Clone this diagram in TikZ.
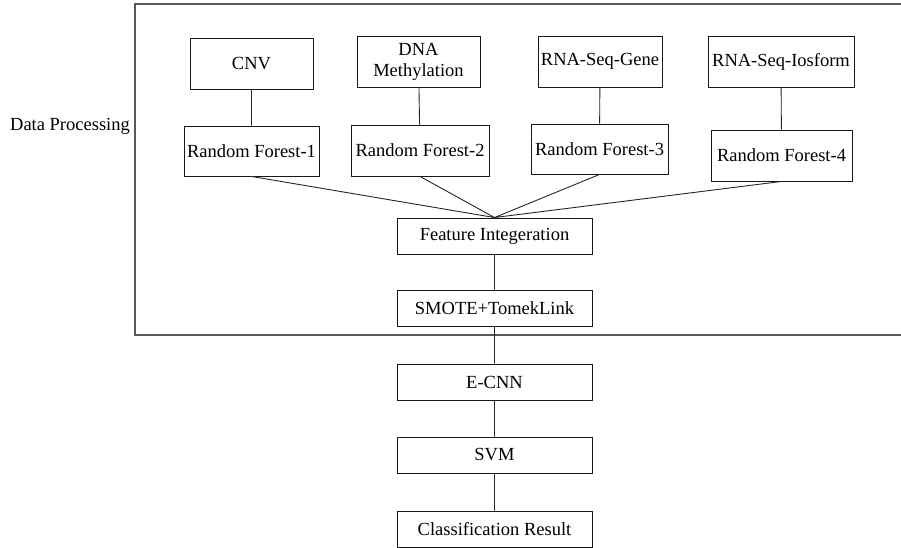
\documentclass[tikz,border=0pt]{standalone}
\usepackage{fontspec}
\setmainfont{Liberation Serif}
\usepackage{tikz}
\usetikzlibrary{positioning}

\begin{document}
\begin{tikzpicture}[x=1pt,y=-1pt,font=\fontsize{18.5}{20}\selectfont,
                    box/.style={draw=black!90,line width=0.9pt,inner sep=2pt},
                    link/.style={draw=black!85,line width=0.9pt}]

 \useasboundingbox (0,0) rectangle (901,548);
 \draw[black!65,line width=1.3pt] (901,4) -- (135,4) -- (135,335) -- (901,335);
 \node (dp) at (70,126) {Data Processing};

  \node[box,minimum width=123,minimum height=51] (CNV) at (251.5,63.5) {CNV};
  \node[box,minimum width=123,minimum height=51,align=center,
        font=\fontsize{18.5}{21}\selectfont] (DNA) at (418.5,61.5) {DNA\\Methylation};
  \node[box,minimum width=124,minimum height=51] (Gene) at (600,61.5) {RNA-Seq-Gene};
  \node[box,minimum width=146,minimum height=51] (Iso) at (781,61.5) {RNA-Seq-Iosform};

  \node[box,minimum width=135,minimum height=50] (RF1) at (251.5,151) {Random Forest-1};
  \node[box,minimum width=138,minimum height=51] (RF2) at (420,150.5) {Random Forest-2};
  \node[box,minimum width=137,minimum height=50] (RF3) at (599.5,149) {Random Forest-3};
  \node[box,minimum width=141,minimum height=51] (RF4) at (781.5,155.5) {Random Forest-4};

  \node[box,minimum width=195,minimum height=36] (FI) at (494.5,236) {Feature Integeration};
  \node[box,minimum width=195,minimum height=36] (ST) at (494.5,308) {SMOTE+TomekLink};
  \node[box,minimum width=195,minimum height=36] (ECNN) at (494.5,382) {E-CNN};
  \node[box,minimum width=195,minimum height=36] (SVM) at (494.5,455) {SVM};
  \node[box,minimum width=195,minimum height=36] (Res) at (494.5,529) {Classification Result};

  \path[link] (CNV) -- (RF1)
              (DNA) -- (RF2)
              (Gene) -- (RF3)
              (Iso) -- (RF4)
              (RF1.south) -- (FI.north)
              (RF2.south) -- (FI.north)
              (RF3.south) -- (FI.north)
              (RF4.south) -- (FI.north)
              (FI) -- (ST)
              (ST) -- (ECNN)
              (ECNN) -- (SVM)
              (SVM) -- (Res);

\end{tikzpicture}
\end{document}
